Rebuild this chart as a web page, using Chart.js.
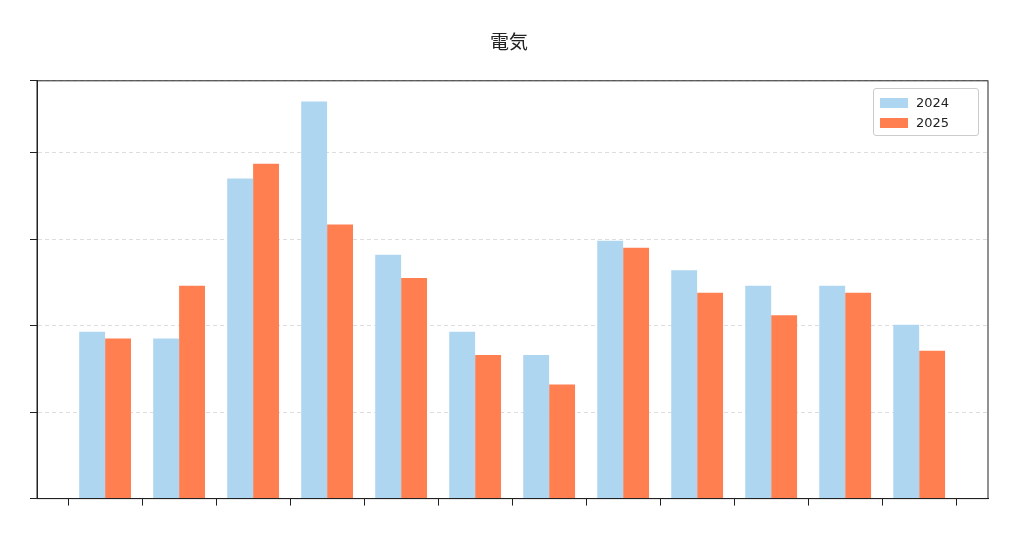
<!DOCTYPE html>
<html><head><meta charset="utf-8">
<script src="https://cdn.jsdelivr.net/npm/chart.js@4"></script>
<style>body{margin:0;background:#fff}#w{position:relative;width:1024px;height:538px}
#lg{position:absolute;left:873px;top:88px;width:106px;height:48px;border:1px solid #ccc;border-radius:3px;background:rgba(255,255,255,0.8);font:13px "DejaVu Sans";color:#222;box-sizing:border-box;padding:4px 0 0 6px}
#lg div{height:20px;line-height:20px}#lg span{display:inline-block;width:28px;height:10px;margin-right:8px;vertical-align:-1px}</style>
</head><body><div id="w"><canvas id="c" width="1024" height="538"></canvas>
<div id="lg"><div><span style="background:#AED6F1"></span>2024</div><div><span style="background:#FF7F50"></span>2025</div></div></div>
<script>
const categories=["1","2","3","4","5","6","7","8","9","10","11","12"];
const values2024=[1.93,1.85,3.70,4.59,2.82,1.93,1.66,2.98,2.64,2.46,2.46,2.01];
const values2025=[1.85,2.46,3.87,3.17,2.55,1.66,1.32,2.90,2.38,2.12,2.38,1.71];
const pts=v=>v.map((y,i)=>({x:i,y}));
const frame={id:'frame',afterDraw(c){const a=c.chartArea,x=c.ctx;x.save();x.strokeStyle='#222';x.lineWidth=1;x.strokeRect(a.left,a.top,a.right-a.left,a.bottom-a.top);x.restore();}};
new Chart(document.getElementById('c'),{type:'bar',
data:{datasets:[
{label:'2024',data:pts(values2024),backgroundColor:'#AED6F1',categoryPercentage:0.70,barPercentage:1},
{label:'2025',data:pts(values2025),backgroundColor:'#FF7F50',categoryPercentage:0.70,barPercentage:1}]},
options:{responsive:false,animation:false,
layout:{padding:{left:30,right:36,top:0,bottom:18}},
plugins:{legend:{display:false},tooltip:{enabled:false},
title:{display:true,text:'電気',font:{size:19,family:'"Noto Sans CJK JP"',weight:'normal'},color:'#222',padding:{top:30,bottom:28}}},
scales:{x:{type:'linear',offset:false,min:-0.92,max:11.93,grid:{drawOnChartArea:false,tickLength:7,tickColor:'#222'},border:{color:'#222'},ticks:{stepSize:1,includeBounds:false,callback:()=>'',padding:0}},
y:{min:0,max:4.83,grid:{color:'#ddd',tickLength:7,tickColor:'#222'},border:{color:'#222',dash:[4,3]},ticks:{stepSize:1,callback:()=>'',padding:0}}}},
plugins:[frame]});
</script></body></html>
